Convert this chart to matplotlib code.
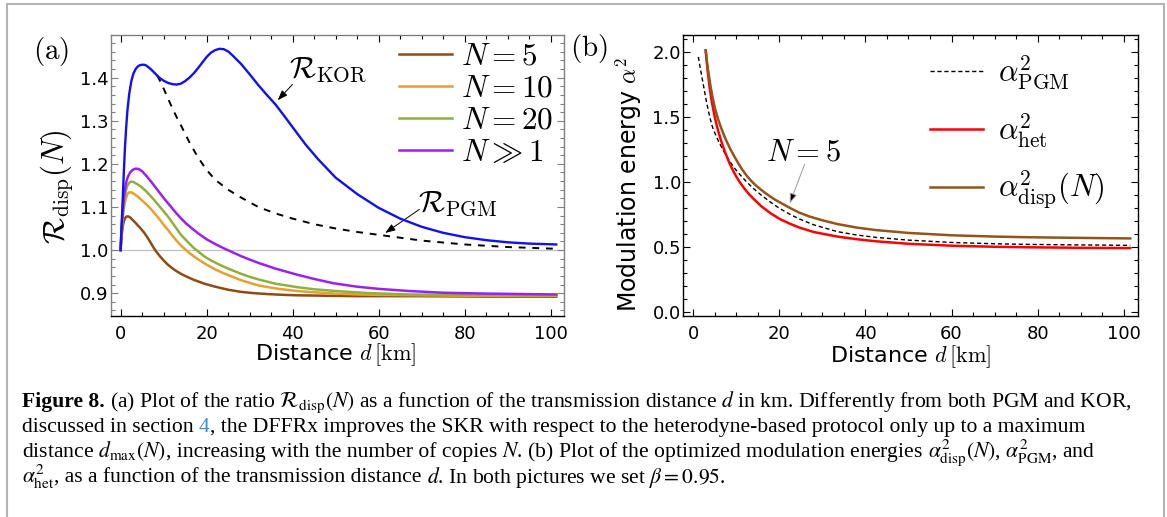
import matplotlib
matplotlib.use('Agg')
import matplotlib.pyplot as plt
from matplotlib.ticker import MultipleLocator, FormatStrFormatter
from matplotlib.patches import Rectangle

plt.rcParams['mathtext.fontset'] = 'cm'
plt.rcParams['font.family'] = 'DejaVu Sans'

# ---- data ----
# panel (a): ratio R_disp(N) vs distance d [km]
d_kor = [0, 0.25, 0.5, 0.75, 1, 1.3, 1.6, 2, 2.5, 3, 3.5, 4, 4.5, 5, 5.5, 6, 7, 8, 9, 10, 11, 12,
         13, 14, 15, 16, 17, 18, 19, 20, 21, 22, 23, 24, 25, 26, 28, 30, 32, 34, 36, 38, 40, 43,
         46, 50, 55, 60, 65, 70, 75, 80, 85, 90, 95, 101.3]
r_kor = [1.0, 1.06, 1.12, 1.18, 1.235, 1.285, 1.325, 1.362, 1.392, 1.41, 1.42, 1.426, 1.429,
         1.43, 1.43, 1.428, 1.42, 1.41, 1.40, 1.393, 1.388, 1.385, 1.384, 1.386, 1.392, 1.40,
         1.41, 1.422, 1.435, 1.448, 1.458, 1.464, 1.467, 1.466, 1.461, 1.452, 1.432, 1.408,
         1.383, 1.36, 1.338, 1.312, 1.285, 1.245, 1.21, 1.168, 1.13, 1.098, 1.073, 1.054, 1.04,
         1.03, 1.023, 1.018, 1.015, 1.013]

d_pgm = [8.5, 9, 10, 11, 12, 13, 14, 16, 18, 20, 22, 25, 28, 32, 36, 40, 45, 50, 55, 61, 70, 80,
         90, 101.3]
r_pgm = [1.405, 1.396, 1.375, 1.352, 1.33, 1.309, 1.29, 1.25, 1.215, 1.186, 1.163, 1.14, 1.122,
         1.10, 1.085, 1.073, 1.06, 1.05, 1.042, 1.034, 1.022, 1.013, 1.007, 1.003]

d_inf = [0, 0.25, 0.5, 0.75, 1, 1.3, 1.7, 2.2, 2.8, 3.5, 4.2, 5, 6, 7, 8, 9, 10, 11, 12, 13, 14,
         15.2, 16.5, 18, 20, 22, 23.8, 26, 28, 30, 32.4, 36, 41, 45, 49.5, 55, 60, 67, 75, 85, 101.3]
r_inf = [1.0, 1.055, 1.09, 1.12, 1.14, 1.157, 1.17, 1.18, 1.186, 1.189, 1.188, 1.183, 1.172,
         1.16, 1.147, 1.134, 1.121, 1.109, 1.097, 1.085, 1.074, 1.062, 1.051, 1.039, 1.025, 1.014,
         1.005, 0.995, 0.986, 0.978, 0.969, 0.957, 0.943, 0.933, 0.923, 0.915, 0.91, 0.905, 0.901,
         0.899, 0.897]

d_n20 = [0, 0.25, 0.5, 0.75, 1, 1.3, 1.6, 2, 2.4, 3, 3.5, 4.2, 5, 6, 7, 8, 9, 10, 11, 12, 13, 14,
         15.2, 16, 17, 18, 19.5, 21, 23, 25, 28, 30, 32, 36, 41, 45, 50, 58, 67, 80, 101.3]
r_n20 = [1.0, 1.05, 1.08, 1.107, 1.125, 1.14, 1.15, 1.156, 1.159, 1.158, 1.155, 1.151, 1.145,
         1.136, 1.125, 1.114, 1.102, 1.09, 1.078, 1.064, 1.05, 1.036, 1.023, 1.015, 1.005, 0.997,
         0.985, 0.976, 0.966, 0.957, 0.945, 0.938, 0.932, 0.922, 0.914, 0.909, 0.905, 0.90,
         0.897, 0.896, 0.895]

d_n10 = [0, 0.25, 0.5, 0.75, 1, 1.3, 1.6, 2, 2.5, 3, 3.5, 4, 5, 6, 7, 8, 9, 10, 11, 12, 13, 14,
         15.2, 16, 17.5, 19.5, 22, 24, 26, 28, 30, 32, 36, 41, 45, 50, 55, 60, 70, 80, 101.3]
r_n10 = [1.0, 1.045, 1.075, 1.095, 1.11, 1.122, 1.13, 1.134, 1.134, 1.131, 1.128, 1.124, 1.115,
         1.106, 1.096, 1.084, 1.072, 1.059, 1.047, 1.034, 1.022, 1.011, 1.0, 0.993, 0.982, 0.969,
         0.955, 0.946, 0.938, 0.93, 0.924, 0.918, 0.911, 0.905, 0.902, 0.899, 0.897, 0.896,
         0.895, 0.894, 0.894]

d_n5 = [0, 0.25, 0.5, 0.75, 1, 1.25, 1.5, 1.8, 2.2, 2.6, 3, 3.5, 4, 4.5, 5, 5.5, 6, 6.5, 7, 7.7,
        8.4, 9.2, 10, 11, 12, 13, 14, 15, 17, 19.5, 22, 25, 28, 31, 34, 38, 41, 48, 55, 70, 85,
        101.3]
r_n5 = [1.0, 1.035, 1.055, 1.066, 1.073, 1.077, 1.078, 1.078, 1.076, 1.072, 1.068, 1.063, 1.057,
        1.052, 1.046, 1.04, 1.033, 1.025, 1.017, 1.005, 0.995, 0.985, 0.976, 0.966, 0.958, 0.951,
        0.945, 0.94, 0.931, 0.922, 0.915, 0.908, 0.903, 0.90, 0.898, 0.896, 0.895, 0.894, 0.893,
        0.893, 0.892, 0.892]

# panel (b): optimized modulation energies alpha^2 vs distance d [km]
d_apgm = [1.2, 1.5, 2, 2.5, 3, 3.5, 4, 4.5, 5.1, 6, 6.9, 8, 9.5, 11.3, 13.5, 15.8, 18, 20.2, 22.5,
          24.6, 28, 33.5, 38, 42.4, 50, 60, 70, 77.8, 90, 101.5]
a_pgm = [1.96, 1.90, 1.81, 1.72, 1.63, 1.55, 1.48, 1.42, 1.37, 1.305, 1.248, 1.185, 1.11, 1.04,
         0.965, 0.90, 0.845, 0.795, 0.752, 0.718, 0.672, 0.62, 0.594, 0.576, 0.555, 0.537,
         0.527, 0.522, 0.518, 0.515]

d_ahet = [2.9, 3.3, 3.8, 4.3, 5, 5.5, 6, 6.5, 7, 7.8, 8.5, 9.3, 10, 11, 12, 13, 14, 15.8, 18,
          20.2, 22.5, 24.6, 28, 33.5, 38, 42.4, 50, 60, 70, 77.8, 90, 101.5]
a_het = [2.01, 1.87, 1.73, 1.62, 1.50, 1.43, 1.37, 1.315, 1.265, 1.195, 1.14, 1.085, 1.042, 0.99,
         0.946, 0.906, 0.872, 0.815, 0.76, 0.715, 0.68, 0.652, 0.617, 0.582, 0.562, 0.546,
         0.527, 0.512, 0.504, 0.50, 0.496, 0.494]

d_adisp = [2.9, 3.2, 3.5, 4, 4.5, 5.1, 5.8, 6.5, 7.2, 7.8, 8.6, 9.5, 10.4, 11.3, 12.4, 13.5,
           14.6, 15.8, 17, 18, 19, 20.2, 22.4, 24.6, 27, 30, 33.5, 38, 42.4, 50, 60, 70, 77.8,
           90, 101.5]
a_disp = [2.01, 1.92, 1.85, 1.74, 1.65, 1.56, 1.48, 1.415, 1.355, 1.31, 1.255, 1.20, 1.148, 1.10,
          1.05, 1.008, 0.973, 0.94, 0.91, 0.887, 0.865, 0.843, 0.803, 0.766, 0.736, 0.707, 0.678,
          0.651, 0.632, 0.61, 0.592, 0.582, 0.577, 0.572, 0.568]

labels_a = [r'$N=5$', r'$N=10$', r'$N=20$', r'$N\gg1$']
colors_a = ['#8e4b14', '#e6a030', '#8fb040', '#9b20f0']
labels_b = [r'$\alpha^2_{\mathrm{PGM}}$', r'$\alpha^2_{\mathrm{het}}$', r'$\alpha^2_{\mathrm{disp}}(N)$']

W, H = 1167, 517
fig = plt.figure(figsize=(W / 100, H / 100), dpi=100)

ax1 = fig.add_axes([110.7 / W, 1 - 316 / H, (564 - 110.7) / W, 281 / H])
ax2 = fig.add_axes([683.3 / W, 1 - 316 / H, (1138 - 683.3) / W, 281 / H])

# ---- panel (a) ----
ax1.axhline(1.0, color='#c0c0c0', lw=0.9, zorder=1)
ax1.plot(d_pgm, r_pgm, color='black', lw=1.4, dashes=(3.5, 3.5), zorder=3)
ax1.plot(d_kor, r_kor, color='#1010f0', lw=1.7, zorder=4)
curves = [(d_n5, r_n5), (d_n10, r_n10), (d_n20, r_n20), (d_inf, r_inf)]
handles = []
for (dd, rr), c in zip(curves, colors_a):
    h, = ax1.plot(dd, rr, color=c, lw=1.8, zorder=3)
    handles.append(h)

ax1.set_xlim(-2.3, 103.1)
ax1.set_ylim(0.847, 1.499)
ax1.xaxis.set_major_locator(MultipleLocator(20))
ax1.xaxis.set_minor_locator(MultipleLocator(5))
ax1.yaxis.set_major_locator(MultipleLocator(0.1))
ax1.yaxis.set_minor_locator(MultipleLocator(0.02))
ax1.yaxis.set_major_formatter(FormatStrFormatter('%.1f'))

ax1.legend(handles, labels_a, loc='upper left', bbox_to_anchor=(0.6356, 0.977), frameon=False,
           fontsize=22.5, handlelength=1.7, handletextpad=0.28, labelspacing=0.1,
           borderpad=0, borderaxespad=0)

ax1.text(39.1, 1.401, r'$\mathcal{R}_{\mathrm{KOR}}$', fontsize=22, va='baseline')
ax1.annotate('', xy=(36.1, 1.343), xytext=(40.4, 1.389),
             arrowprops=dict(arrowstyle='-|>,head_length=0.6,head_width=0.22', color='black', lw=0.7))
ax1.text(69.1, 1.09, r'$\mathcal{R}_{\mathrm{PGM}}$', fontsize=22, va='baseline')
ax1.annotate('', xy=(61, 1.036), xytext=(70, 1.098),
             arrowprops=dict(arrowstyle='-|>,head_length=0.6,head_width=0.22', color='black', lw=0.7))

ax1.set_xlabel(r'Distance $d\,[\mathrm{km}]$', fontsize=16, va='center')
ax1.xaxis.set_label_coords(0.495, -0.139)
ax1.set_ylabel(r'$\mathcal{R}_{\mathrm{disp}}(N)$', fontsize=22, va='center')
ax1.yaxis.set_label_coords(-0.1185, 0.459)

# ---- panel (b) ----
hp, = ax2.plot(d_apgm, a_pgm, color='black', lw=1.0, dashes=(3, 2))
hh, = ax2.plot(d_ahet, a_het, color='#ff0000', lw=1.8)
hd, = ax2.plot(d_adisp, a_disp, color='#94541a', lw=1.8)

ax2.set_xlim(-2.3, 103.3)
ax2.set_ylim(-0.027, 2.128)
ax2.xaxis.set_major_locator(MultipleLocator(20))
ax2.xaxis.set_minor_locator(MultipleLocator(5))
ax2.yaxis.set_major_locator(MultipleLocator(0.5))
ax2.yaxis.set_minor_locator(MultipleLocator(0.1))
ax2.yaxis.set_major_formatter(FormatStrFormatter('%.1f'))

ax2.legend([hp, hh, hd], labels_b, loc='upper left', bbox_to_anchor=(0.542, 0.932), frameon=False,
           fontsize=22, handlelength=1.73, handletextpad=0.5, labelspacing=0.62,
           borderpad=0, borderaxespad=0)

ax2.text(16.8, 1.169, r'$N=5$', fontsize=22, va='baseline')
ax2.annotate('', xy=(22.2, 0.817), xytext=(26.1, 1.156),
             arrowprops=dict(arrowstyle='-|>,head_length=0.6,head_width=0.22',
                             edgecolor='#9a9a9a', facecolor='black', lw=0.7))

ax2.set_xlabel(r'Distance $d\,[\mathrm{km}]$', fontsize=16, va='center')
ax2.xaxis.set_label_coords(0.5, -0.146)
ax2.set_ylabel(r'Modulation energy $\alpha^2$', fontsize=17, va='center')
ax2.yaxis.set_label_coords(-0.12, 0.47)

for ax in (ax1, ax2):
    ax.tick_params(which='both', direction='in', top=True, right=True, width=0.8, labelsize=13)
    ax.tick_params(which='major', length=5)
    ax.tick_params(which='minor', length=2.7)
    ax.tick_params(axis='x', pad=6.5)
    ax.tick_params(axis='y', pad=1.7)

# panel (a) frame is grey except the bottom axis
for side in ('left', 'top', 'right'):
    ax1.spines[side].set_color('#808080')
ax1.tick_params(axis='y', which='both', color='#808080')
for t in ax1.xaxis.get_major_ticks() + ax1.xaxis.get_minor_ticks():
    t.tick2line.set_color('#808080')
for ax in (ax1, ax2):
    for sp in ax.spines.values():
        sp.set_linewidth(1.0)

fig.text(33.3 / W, 1 - 58.7 / H, r'$(\mathrm{a})$', fontsize=21, va='baseline')
fig.text(570 / W, 1 - 56 / H, r'$(\mathrm{b})$', fontsize=21, va='baseline')

# ---- caption ----
renderer = fig.canvas.get_renderer()
cap_fs = 15.6
space = 5.2


def caption_line(y_px, parts, x_px=22):
    x = x_px
    for txt, gap, kw in parts:
        x += gap
        t = fig.text(x / W, 1 - y_px / H, txt, fontsize=cap_fs, family='Liberation Serif',
                     math_fontfamily='stix', va='baseline', **kw)
        x = t.get_window_extent(renderer).x1


caption_line(407, [
    ('Figure 8.', 0, dict(fontweight='bold')),
    (r'(a) Plot of the ratio $\mathcal{R}_{\mathrm{disp}}(N)$ as a function of the transmission '
     r'distance $d$ in km. Differently from both PGM and KOR,', space, {}),
])
caption_line(432, [
    ('discussed in section', 0, {}),
    ('4', space, dict(color='#3a8fd0')),
    (', the DFFRx improves the SKR with respect to the heterodyne-based protocol only up to a maximum',
     0, {}),
])
caption_line(457, [
    (r'distance $d_{\max}(N)$', 0, {}),
    (', increasing with the number of copies', 0, {}),
    (r'$N$. (b) Plot of the optimized modulation energies', space, {}),
    (r'$\alpha^2_{\mathrm{disp}}(N)$, $\alpha^2_{\mathrm{PGM}}$, and', space, {}),
])
caption_line(483, [
    (r'$\alpha^2_{\mathrm{het}}$', 0, {}),
    (', as a function of the transmission distance', 0, {}),
    (r'$d$. In both pictures we set $\beta = 0.95$.', space, {}),
])

# grey frame around the figure
fig.patches.append(Rectangle((7 / W, -0.05), 1156.5 / W, 1.05 - 4.3 / H, transform=fig.transFigure,
                             fill=False, edgecolor='#b4b4b4', lw=1.5))

fig.savefig('out.png', dpi=100)
